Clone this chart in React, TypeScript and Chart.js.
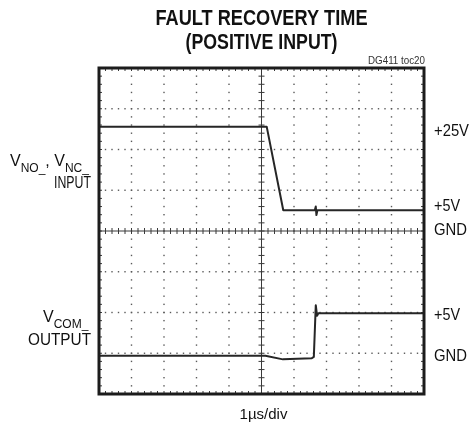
import React, { useEffect, useRef } from "react";
import { Chart, registerables } from "chart.js";

Chart.register(...registerables);

// ---- chart content ----
const titleLines = ["FAULT RECOVERY TIME", "(POSITIVE INPUT)"];
const figureTag = "DG411 toc20";
const timeBaseLabel = "1µs/div";

const xDivisions = 10;
const yDivisions = 8;
const minorPerDiv = 5;

// input trace (V_NO_, V_NC_), in screen divisions
const inputTime = [0, 5.16, 5.67, 6.64, 6.67, 6.69, 6.72, 10];
const inputLevel = [6.56, 6.56, 4.51, 4.51, 4.6, 4.39, 4.51, 4.51];

// output trace (V_COM_), in screen divisions
const outputTime = [0, 5.12, 5.66, 6.55, 6.61, 6.67, 6.71, 6.75, 10];
const outputLevel = [0.94, 0.94, 0.85, 0.88, 0.91, 2.18, 1.92, 1.98, 1.98];

// reference level labels on the right (text, level in divisions)
const levelLabels = ["+25V", "+5V", "GND", "+5V", "GND"];
const levelValues = [6.5, 4.5, 4.0, 2.0, 1.0];

const SANS = "'Liberation Sans', Arial, Helvetica, sans-serif";
const NARROW = "'Liberation Sans Narrow', 'Liberation Sans', Arial, sans-serif";

type Run = { text: string; size: number; dy: number };

function drawRuns(ctx: CanvasRenderingContext2D, runs: Run[], x: number, baseline: number) {
  let cx = x;
  ctx.textAlign = "left";
  ctx.textBaseline = "alphabetic";
  for (const r of runs) {
    ctx.font = `${r.size}px ${SANS}`;
    ctx.fillText(r.text, cx, baseline + r.dy);
    cx += ctx.measureText(r.text).width;
  }
}

const scopePlugin = {
  id: "scopeOverlay",
  beforeDatasetsDraw(chart: any) {
    const { ctx, chartArea: a, scales } = chart;
    const sx = scales.x;
    const sy = scales.y;
    ctx.save();
    // dotted graticule lines
    ctx.fillStyle = "#5a5a5a";
    for (let i = 1; i < xDivisions; i++) {
      if (i === xDivisions / 2) continue;
      const px = sx.getPixelForValue(i);
      for (let j = 1; j < yDivisions * minorPerDiv; j++) {
        const py = sy.getPixelForValue(j / minorPerDiv);
        ctx.fillRect(px - 0.7, py - 0.7, 1.4, 1.4);
      }
    }
    for (let k = 1; k < yDivisions; k++) {
      if (k === yDivisions / 2) continue;
      const py = sy.getPixelForValue(k);
      for (let j = 1; j < xDivisions * minorPerDiv; j++) {
        const px = sx.getPixelForValue(j / minorPerDiv);
        ctx.fillRect(px - 0.7, py - 0.7, 1.4, 1.4);
      }
    }
    // center crosshair with minor ticks
    ctx.strokeStyle = "#3a3a3a";
    ctx.lineWidth = 1;
    const cxp = sx.getPixelForValue(xDivisions / 2);
    const cyp = sy.getPixelForValue(yDivisions / 2);
    ctx.beginPath();
    ctx.moveTo(cxp, a.top);
    ctx.lineTo(cxp, a.bottom);
    ctx.moveTo(a.left, cyp);
    ctx.lineTo(a.right, cyp);
    const t = 3;
    for (let j = 1; j < yDivisions * minorPerDiv; j++) {
      const py = sy.getPixelForValue(j / minorPerDiv);
      ctx.moveTo(cxp - t, py);
      ctx.lineTo(cxp + t, py);
      ctx.moveTo(a.left, py);
      ctx.lineTo(a.left + t, py);
      ctx.moveTo(a.right, py);
      ctx.lineTo(a.right - t, py);
    }
    for (let j = 1; j < xDivisions * minorPerDiv; j++) {
      const px = sx.getPixelForValue(j / minorPerDiv);
      ctx.moveTo(px, cyp - t);
      ctx.lineTo(px, cyp + t);
      ctx.moveTo(px, a.top);
      ctx.lineTo(px, a.top + t);
      ctx.moveTo(px, a.bottom);
      ctx.lineTo(px, a.bottom - t);
    }
    ctx.stroke();
    ctx.restore();
  },
  afterDatasetsDraw(chart: any) {
    const { ctx, chartArea: a } = chart;
    ctx.save();
    ctx.strokeStyle = "#1c1c1c";
    ctx.lineWidth = 3;
    ctx.strokeRect(a.left, a.top, a.right - a.left, a.bottom - a.top);
    ctx.restore();
  },
  afterDraw(chart: any) {
    const { ctx, chartArea: a, scales } = chart;
    const sy = scales.y;
    const midX = (a.left + a.right) / 2;
    ctx.save();
    ctx.fillStyle = "#111";
    // title
    ctx.textAlign = "center";
    ctx.textBaseline = "alphabetic";
    ctx.font = `bold 22px ${NARROW}`;
    ctx.fillText(titleLines[0], midX, 25, 212);
    ctx.fillText(titleLines[1], midX, 49, 152);
    // figure tag
    ctx.fillStyle = "#333";
    ctx.textAlign = "right";
    ctx.font = `10px ${SANS}`;
    ctx.fillText(figureTag, a.right + 1, a.top - 4, 57);
    ctx.fillStyle = "#111";
    // level labels on the right
    const nudges = [2, -4.5, 0, 3.5, 3.7];
    const widths = [35, 26, 33, 26, 33];
    ctx.textAlign = "left";
    ctx.textBaseline = "middle";
    ctx.font = `16px ${SANS}`;
    levelLabels.forEach((lab, i) => {
      ctx.fillText(lab, a.right + 10, sy.getPixelForValue(levelValues[i]) + nudges[i], widths[i]);
    });
    // channel labels on the left
    drawRuns(ctx, [
      { text: "V", size: 16, dy: 0 },
      { text: "NO_", size: 12, dy: 6 },
      { text: ", ", size: 16, dy: 0 },
      { text: "V", size: 16, dy: 0 },
      { text: "NC_", size: 12, dy: 6 },
    ], 10, 166);
    ctx.textAlign = "right";
    ctx.textBaseline = "alphabetic";
    ctx.font = `16px ${SANS}`;
    ctx.fillText("INPUT", 91, 188, 37);
    drawRuns(ctx, [
      { text: "V", size: 16, dy: 0 },
      { text: "COM_", size: 12, dy: 6 },
    ], 43, 322);
    ctx.textAlign = "right";
    ctx.font = `16px ${SANS}`;
    ctx.fillText("OUTPUT", 91, 345, 63);
    // time base
    ctx.textAlign = "center";
    ctx.font = `15px ${SANS}`;
    ctx.fillText(timeBaseLabel, midX + 2, 419);
    ctx.restore();
  },
};

export default function App() {
  const canvasRef = useRef<HTMLCanvasElement | null>(null);

  useEffect(() => {
    if (!canvasRef.current) return;
    const chart = new Chart(canvasRef.current, {
      type: "line",
      data: {
        datasets: [
          {
            label: "V_NO_, V_NC_ INPUT",
            data: inputTime.map((t, i) => ({ x: t, y: inputLevel[i] })),
            borderColor: "#262626",
            borderWidth: 2,
            borderJoinStyle: "round",
            borderCapStyle: "round",
            pointRadius: 0,
            tension: 0,
            fill: false,
          },
          {
            label: "V_COM_ OUTPUT",
            data: outputTime.map((t, i) => ({ x: t, y: outputLevel[i] })),
            borderColor: "#262626",
            borderWidth: 2,
            borderJoinStyle: "round",
            borderCapStyle: "round",
            pointRadius: 0,
            tension: 0,
            fill: false,
          },
        ],
      },
      options: {
        responsive: false,
        animation: false,
        devicePixelRatio: 1,
        layout: { padding: { left: 99, right: 48, top: 68, bottom: 34 } },
        plugins: {
          legend: { display: false },
          title: { display: false },
          tooltip: { enabled: false },
        },
        scales: {
          x: { type: "linear", min: 0, max: xDivisions, display: false },
          y: { type: "linear", min: 0, max: yDivisions, display: false },
        },
      },
      plugins: [scopePlugin],
    });
    return () => chart.destroy();
  }, []);

  return (
    <div style={{ position: "absolute", left: 0, top: 0, width: 472, height: 428, background: "#fff" }}>
      <canvas ref={canvasRef} width={472} height={428} />
    </div>
  );
}
